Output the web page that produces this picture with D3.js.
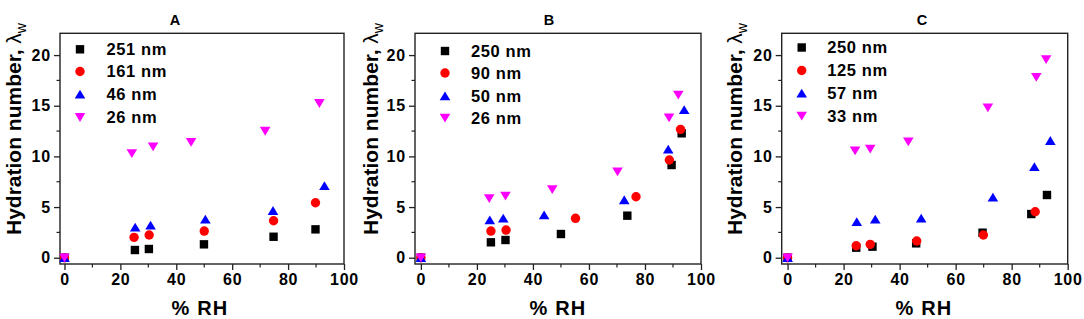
<!DOCTYPE html>
<html><head><meta charset="utf-8">
<script src="https://cdn.jsdelivr.net/npm/d3@7"></script>
<style>body{margin:0;background:#fff}svg{display:block}text{font-family:"Liberation Sans",Arial,sans-serif;font-weight:bold;fill:#000}</style>
</head><body>
<svg id="c" width="1084" height="319"></svg>
<script>
// ---- data ----
const panelTitles = ["A", "B", "C"];
const legendA = ["251 nm", "161 nm", "46 nm", "26 nm"];
const legendB = ["250 nm", "90 nm", "50 nm", "26 nm"];
const legendC = ["250 nm", "125 nm", "57 nm", "33 nm"];
const xTicks = [0, 20, 40, 60, 80, 100];
const yTicks = [0, 5, 10, 15, 20];

// Panel A
const A_rh1 = [0, 25.2, 30.2, 49.9, 74.8, 89.8];   const A_hw1 = [0, 0.76, 0.86, 1.32, 2.07, 2.8];
const A_rh2 = [0, 24.9, 30.3, 50.0, 74.8, 89.8];   const A_hw2 = [0, 2.01, 2.24, 2.63, 3.65, 5.43];
const A_rh3 = [0, 25.3, 30.8, 50.4, 74.6, 93.0];   const A_hw3 = [0, 3.0, 3.2, 3.79, 4.64, 7.1];
const A_rh4 = [0, 24.1, 31.7, 45.3, 71.8, 91.2];   const A_hw4 = [0, 10.3, 10.96, 11.4, 12.5, 15.24];
// Panel B
const B_rh1 = [0, 25.0, 30.2, 50.0, 73.7, 89.5, 93.1]; const B_hw1 = [0, 1.52, 1.75, 2.34, 4.15, 9.15, 12.28];
const B_rh2 = [0, 25.0, 30.4, 55.2, 76.8, 88.7, 92.7]; const B_hw2 = [0, 2.63, 2.73, 3.89, 6.02, 9.64, 12.67];
const B_rh3 = [0, 24.6, 29.4, 44.0, 72.6, 88.3, 94.0]; const B_hw3 = [0, 3.72, 3.89, 4.2, 5.7, 10.7, 14.6];
const B_rh4 = [0, 24.4, 30.2, 46.9, 70.2, 88.6, 91.9]; const B_hw4 = [0, 5.86, 6.09, 6.75, 8.49, 13.82, 16.06];
// Panel C
const C_rh1 = [0, 24.5, 30.3, 45.9, 69.6, 87.0, 92.6]; const C_hw1 = [0, 0.99, 1.09, 1.42, 2.47, 4.31, 6.19];
const C_rh2 = [0, 24.5, 29.5, 46.1, 69.9, 88.4];       const C_hw2 = [0, 1.18, 1.32, 1.65, 2.24, 4.54];
const C_rh3 = [0, 24.7, 31.3, 47.7, 73.3, 88.1, 93.8]; const C_hw3 = [0, 3.55, 3.79, 3.89, 5.96, 8.98, 11.55];
const C_rh4 = [0, 24.1, 29.5, 43.1, 71.5, 88.8, 92.3]; const C_hw4 = [0, 10.56, 10.73, 11.45, 14.81, 17.81, 19.58];

// ---- styles / layout ----
const colors = ["#000000", "#ff0000", "#0000ff", "#ff00ff"];
const shapes = ["square", "circle", "up", "down"];
const panels = [
  {title: panelTitles[0], legend: legendA, series: [[A_rh1,A_hw1],[A_rh2,A_hw2],[A_rh3,A_hw3],[A_rh4,A_hw4]],
   x0: 60, x1: 344, xmin: -1.6, titleX: 175, legMark: 20, legText: 46.5, legY: [49.3, 71.5, 94.3, 117.3], ylabX: 20.7, rhX: 200},
  {title: panelTitles[1], legend: legendB, series: [[B_rh1,B_hw1],[B_rh2,B_hw2],[B_rh3,B_hw3],[B_rh4,B_hw4]],
   x0: 415, x1: 701, xmin: -2.1, titleX: 549, legMark: 30, legText: 56, legY: [51, 73, 96, 118], ylabX: 378.3, rhX: 558},
  {title: panelTitles[2], legend: legendC, series: [[C_rh1,C_hw1],[C_rh2,C_hw2],[C_rh3,C_hw3],[C_rh4,C_hw4]],
   x0: 781.7, x1: 1067.7, xmin: -2.1, titleX: 922, legMark: 20, legText: 45.6, legY: [47.5, 70.5, 93.3, 116], ylabX: 741.7, rhX: 924}
];
const yTop = 33.3, yBot = 264;

const svg = d3.select("#c");

function marker(g, shape, color, cx, cy) {
  if (shape === "square") {
    g.append("rect").attr("x", cx - 4.2).attr("y", cy - 4.2).attr("width", 8.4).attr("height", 8.4).attr("fill", color);
  } else if (shape === "circle") {
    g.append("circle").attr("cx", cx).attr("cy", cy).attr("r", 4.7).attr("fill", color);
  } else if (shape === "up") {
    g.append("path").attr("d", `M${cx-5.3},${cy+4.2}L${cx+5.3},${cy+4.2}L${cx},${cy-4.6}Z`).attr("fill", color);
  } else {
    g.append("path").attr("d", `M${cx-5.3},${cy-4.2}L${cx+5.3},${cy-4.2}L${cx},${cy+4.6}Z`).attr("fill", color);
  }
}

panels.forEach(p => {
  const x = d3.scaleLinear().domain([p.xmin, 100]).range([p.x0, p.x1]);
  const y = d3.scaleLinear().domain([-0.62, 22.15]).range([yBot, yTop]);
  const g = svg.append("g");

  // minor ticks
  const xMinor = d3.range(10, 100, 20);
  const yMinor = d3.range(2.5, 22, 5);
  g.selectAll(null).data(xMinor).enter().append("line")
    .attr("x1", d => x(d)).attr("x2", d => x(d)).attr("y1", yBot).attr("y2", yBot + 3.5)
    .attr("stroke", "#222").attr("stroke-width", 1.2);
  g.selectAll(null).data(yMinor).enter().append("line")
    .attr("y1", d => y(d)).attr("y2", d => y(d)).attr("x1", p.x0).attr("x2", p.x0 - 3.5)
    .attr("stroke", "#222").attr("stroke-width", 1.2);

  // axes
  const xa = g.append("g").attr("transform", `translate(0,${yBot})`)
    .call(d3.axisBottom(x).tickValues(xTicks).tickSize(6).tickPadding(4).tickFormat(d3.format("d")));
  const ya = g.append("g").attr("transform", `translate(${p.x0},0)`)
    .call(d3.axisLeft(y).tickValues(yTicks).tickSize(6).tickPadding(3).tickFormat(d3.format("d")));
  [xa, ya].forEach(a => {
    a.select(".domain").remove();
    a.selectAll(".tick line").attr("stroke", "#222").attr("stroke-width", 1.3);
    a.selectAll(".tick text").style("font-size", "16px").style("letter-spacing", "0.8px")
      .style("font-family", '"Liberation Sans",Arial,sans-serif').style("font-weight", "bold").attr("fill", "#111");
  });

  // frame
  g.append("rect").attr("x", p.x0).attr("y", yTop).attr("width", p.x1 - p.x0).attr("height", yBot - yTop)
    .attr("fill", "none").attr("stroke", "#222").attr("stroke-width", 1.4);

  // data
  p.series.forEach((s, i) => {
    const [rh, hw] = s;
    rh.forEach((v, k) => marker(g, shapes[i], colors[i], x(v), y(hw[k])));
  });

  // legend
  p.legend.forEach((lab, i) => {
    marker(g, shapes[i], colors[i], p.x0 + p.legMark, p.legY[i]);
    g.append("text").attr("x", p.x0 + p.legText).attr("y", p.legY[i] + 5.8)
      .style("font-size", "16.5px").style("letter-spacing", "0.6px").text(lab);
  });

  // title
  g.append("text").attr("x", p.titleX).attr("y", 25).attr("text-anchor", "middle").style("font-size", "14.5px").text(p.title);

  // x label
  g.append("text").attr("x", p.rhX).attr("y", 315).attr("text-anchor", "middle").style("font-size", "20px").style("letter-spacing", "1.2px").text("% RH");

  // y label
  const yl = g.append("text").attr("transform", `translate(${p.ylabX},129) rotate(-90)`).attr("text-anchor", "middle").style("font-size", "21px");
  yl.append("tspan").text("Hydration number, ");
  yl.append("tspan").style("font-weight", "normal").text("λ");
  yl.append("tspan").attr("dy", 5).style("font-size", "14px").style("font-weight", "normal").text("w");
});
</script>
</body></html>
